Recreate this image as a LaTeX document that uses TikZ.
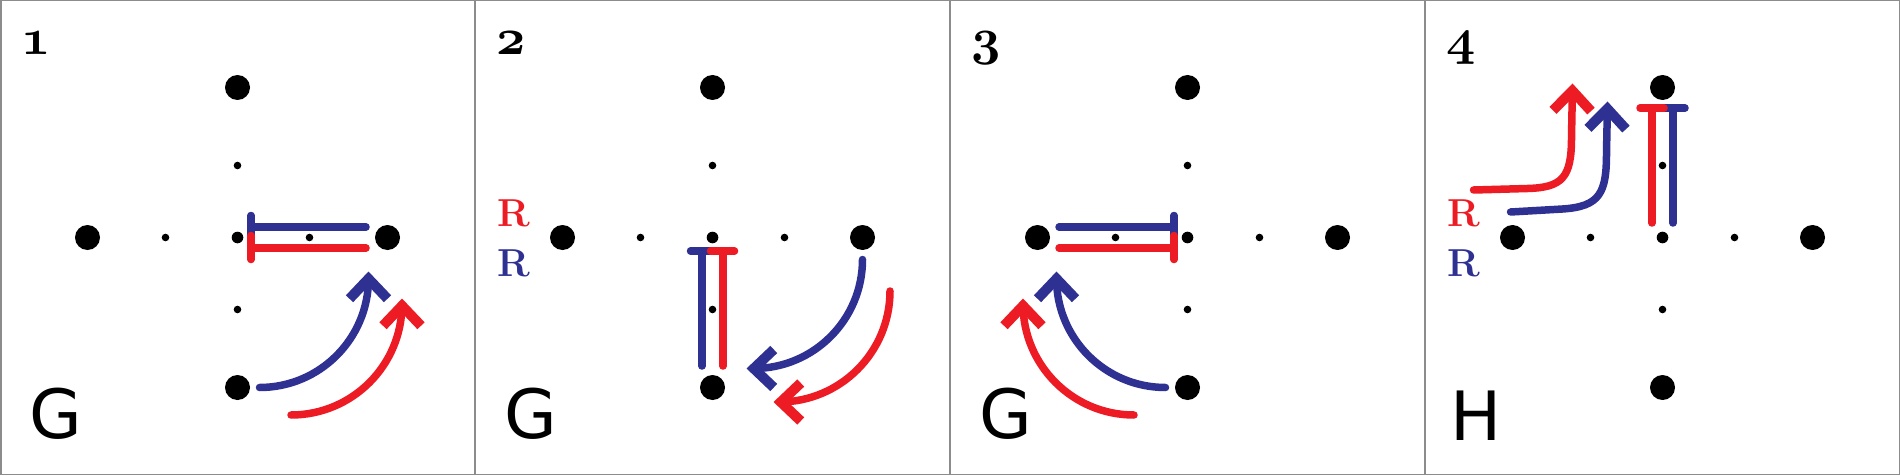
\documentclass[tikz,border=0pt]{standalone}
\usepackage{fontspec}
\newfontfamily\roundsans{DejaVu Sans}
\usepackage{tikz}
\usetikzlibrary{arrows.meta}
\definecolor{movered}{RGB}{237,28,36}
\definecolor{moveblue}{RGB}{46,49,146}
\newcommand\oldno[1]{\scalebox{5.1}{\usefont{OML}{cmm}{b}{it}#1}}

\begin{document}
\begin{tikzpicture}[x=1pt, y=1pt,
    frame/.style={draw=black!45, line width=1.5pt},
    run/.style={line width=7.5pt, line cap=round},
    redrun/.style={run, movered},
    bluerun/.style={run, moveblue},
    block/.style={preaction={draw=white, line width=11.5pt}},
    head/.style={-{Straight Barb[length=20pt, width=38pt, line width=10pt]}},
    panelno/.style={anchor=base west, inner sep=0pt, font=\fontsize{10}{10}\selectfont},
    rlbl/.style={anchor=base west, inner sep=0pt, font=\fontsize{39}{39}\selectfont\bfseries},
    formlbl/.style={anchor=base west, inner sep=0pt, font=\fontsize{68}{68}\selectfont\roundsans},
]
\useasboundingbox (0,0) rectangle (1900,475);

% --- panel frames ---
\draw[frame] (0.75,0.75) rectangle (1899.25,474.25);
\draw[frame] (475,0) -- (475,475);
\draw[frame] (950,0) -- (950,475);
\draw[frame] (1425,0) -- (1425,475);

% --- dot grids ---
\foreach \cx in {237.5, 712.5, 1187.5, 1662.5} {
  \begin{scope}[shift={(\cx,237.5)}]
    \foreach \a/\b in {0/150, -150/0, 150/0, 0/-150} \fill (\a,\b) circle[radius=12.5];
    \foreach \a/\b in {0/72, -72/0, 72/0, 0/-72} \fill (\a,\b) circle[radius=3.8];
    \fill (0,0) circle[radius=5.8];
  \end{scope}
}

% --- panel 1 ---
\begin{scope}[shift={(237.5,237.5)}]
  \node[panelno] (no1) at (-216,182.5) {\oldno{1}};
  \node[formlbl] (g1) at (-208,-201) {G};
  \draw[bluerun] (13.5,22) -- (13.5,-1) (13.5,10.5) -- (128.5,10.5);
  \draw[redrun, block] (13.5,2) -- (13.5,-22) (13.5,-10.5) -- (128.5,-10.5);
  \draw[bluerun, head] (22,-150) arc[start angle=-90, end angle=0, radius=109] -- (131,-34);
  \draw[redrun, head] (53.5,-177.5) arc[start angle=-90, end angle=0, radius=111] -- (164.5,-61);
\end{scope}

% --- panel 2 ---
\begin{scope}[shift={(712.5,237.5)}]
  \node[panelno] (no2) at (-216,182.5) {\oldno{2}};
  \node[rlbl, movered] (r2red) at (-215.5,10.8) {R};
  \node[rlbl, moveblue] (r2blue) at (-215.5,-38.5) {R};
  \node[formlbl] (g2) at (-208,-201) {G};
  \draw[bluerun] (-22,-13.5) -- (1,-13.5) (-10.5,-13.5) -- (-10.5,-128.5);
  \draw[redrun, block] (-2,-13.5) -- (22,-13.5) (10.5,-13.5) -- (10.5,-128.5);
  \draw[bluerun, head] (150,-22) arc[start angle=0, end angle=-90, radius=109] -- (34,-131);
  \draw[redrun, head] (177.5,-53.5) arc[start angle=0, end angle=-90, radius=111] -- (61,-164.5);
\end{scope}

% --- panel 3 ---
\begin{scope}[shift={(1187.5,237.5)}]
  \node[panelno] (no3) at (-216,182.5) {\oldno{3}};
  \node[formlbl] (g3) at (-208,-201) {G};
  \draw[bluerun] (-13.5,22) -- (-13.5,-1) (-13.5,10.5) -- (-128.5,10.5);
  \draw[redrun, block] (-13.5,2) -- (-13.5,-22) (-13.5,-10.5) -- (-128.5,-10.5);
  \draw[bluerun, head] (-22,-150) arc[start angle=270, end angle=180, radius=109] -- (-131,-34);
  \draw[redrun, head] (-53.5,-177.5) arc[start angle=270, end angle=180, radius=111] -- (-164.5,-61);
\end{scope}

% --- panel 4 ---
\begin{scope}[shift={(1662.5,237.5)}]
  \node[panelno] (no4) at (-216,182.5) {\oldno{4}};
  \node[rlbl, movered] (r4red) at (-215.5,10.8) {R};
  \node[rlbl, moveblue] (r4blue) at (-215.5,-38.5) {R};
  \node[formlbl] (h4) at (-212.5,-202.5) {H};
  \draw[bluerun] (-1.5,129.5) -- (22.5,129.5) (10.5,129.5) -- (10.5,14.5);
  \draw[redrun, block] (-22.5,129.5) -- (1.5,129.5) (-10.5,129.5) -- (-10.5,14.5);
  \draw[redrun, head] (-189,47.5) -- (-135,49) .. controls (-100,50) and (-91,60) .. (-91,100) -- (-90,154);
  \draw[bluerun, head] (-152,25.5) -- (-100,28.5) .. controls (-62,31) and (-56,45) .. (-56,85) -- (-55,136);
\end{scope}

\end{tikzpicture}
\end{document}
